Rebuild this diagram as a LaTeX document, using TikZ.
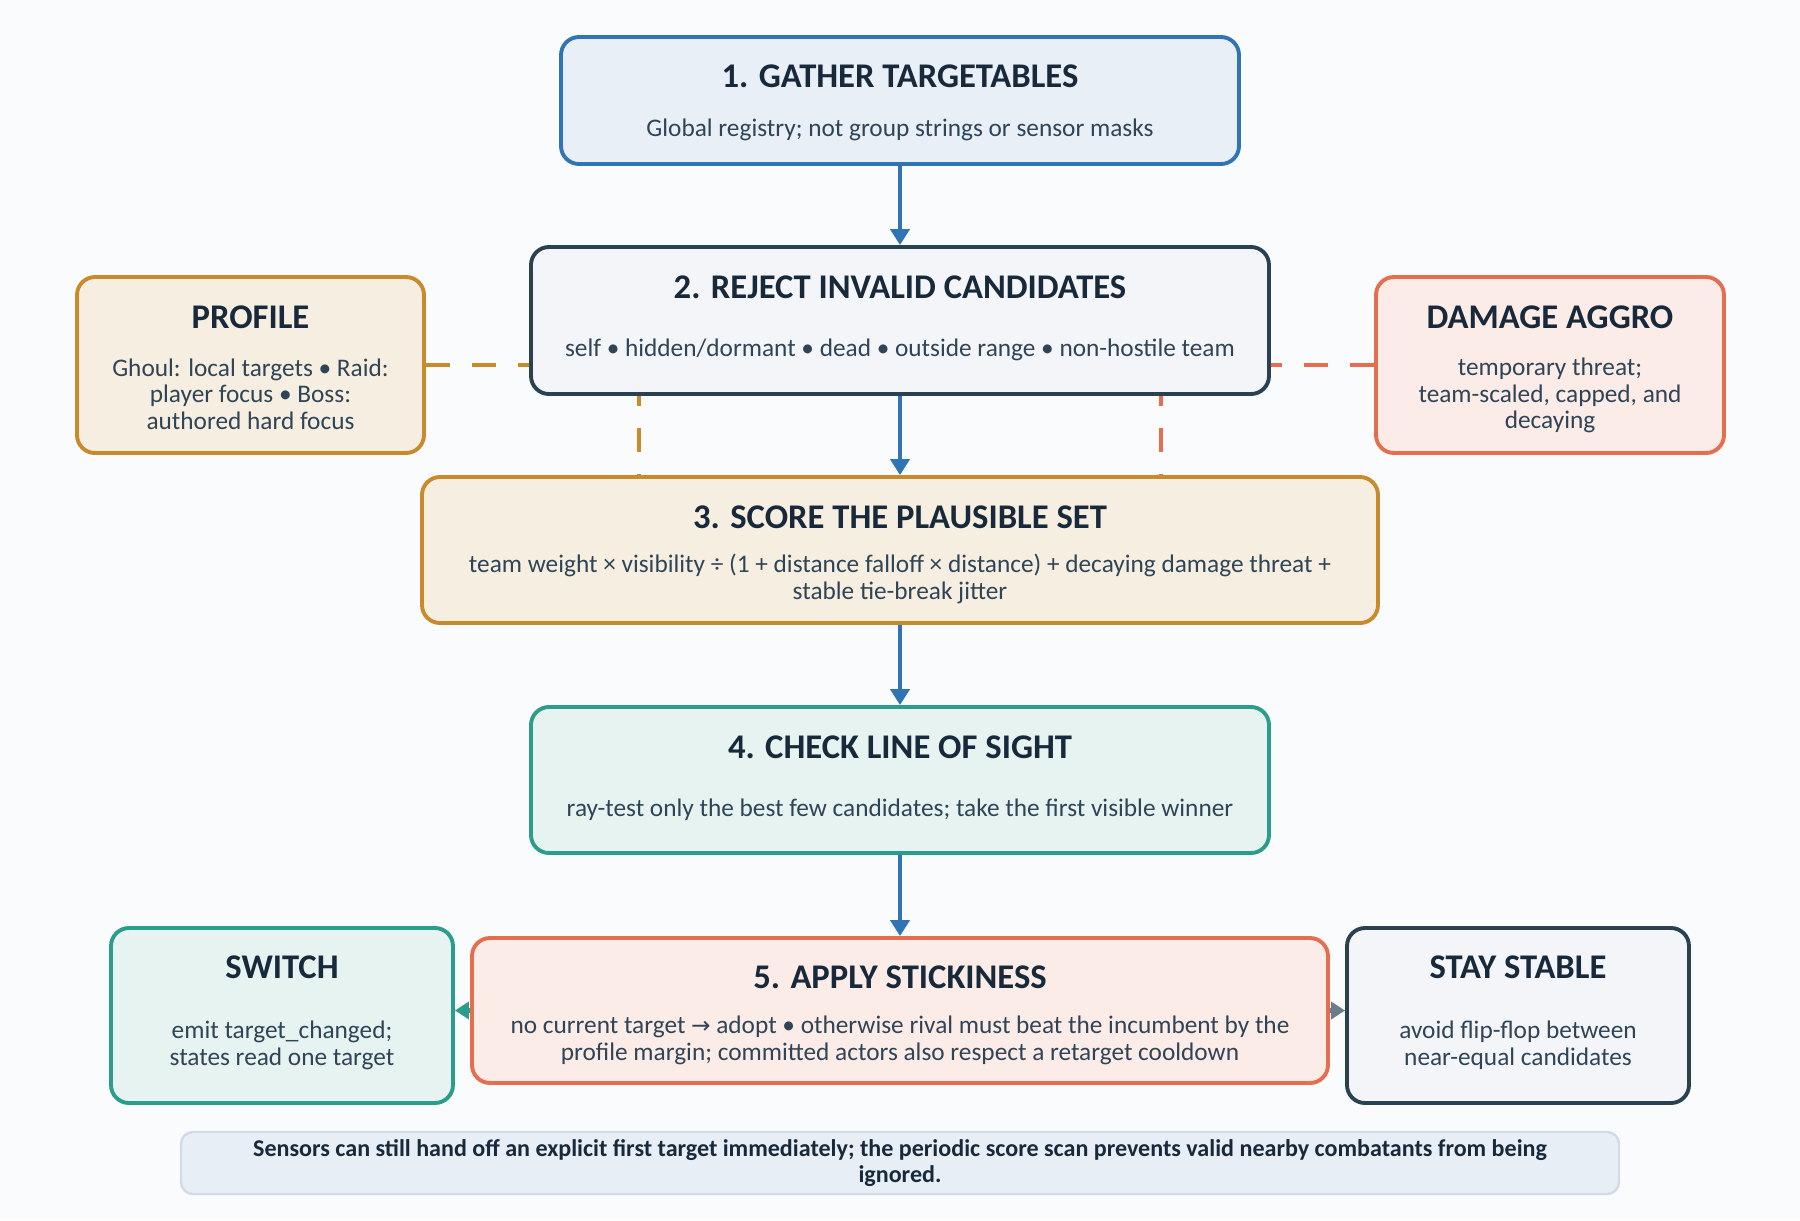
\documentclass[tikz,border=0pt]{standalone}
\usepackage{fontspec}
\setmainfont{Carlito}
\newfontfamily\arrowfont{DejaVu Sans}
\usetikzlibrary{arrows.meta,positioning,backgrounds,calc}

\definecolor{pagebg}{HTML}{F9FBFD}
\definecolor{titleink}{HTML}{17293A}
\definecolor{bodyink}{HTML}{2F4457}
\definecolor{flowblue}{HTML}{2F75B5}
\definecolor{gatherfill}{HTML}{E8EFF7}
\definecolor{slate}{HTML}{2A4152}
\definecolor{slatefill}{HTML}{F3F5F8}
\definecolor{ochre}{HTML}{C98A2B}
\definecolor{ochrefill}{HTML}{F6EFE1}
\definecolor{coral}{HTML}{E56E4E}
\definecolor{coralfill}{HTML}{FBECE7}
\definecolor{tealline}{HTML}{2A9D8C}
\definecolor{tealfill}{HTML}{E7F3F0}
\definecolor{notegrey}{HTML}{D3DCE5}
\definecolor{notefill}{HTML}{E8EEF5}
\definecolor{arrowgrey}{HTML}{6B7C8A}

\begin{document}
\begin{tikzpicture}[
  box/.style={draw, rounded corners=1.8mm, line width=1.1pt, inner sep=0pt},
  boxtitle/.style={font=\fontsize{9.85}{11}\selectfont\bfseries, text=titleink, inner sep=0pt},
  boxbody/.style={font=\fontsize{7.2}{7.6}\selectfont, text=bodyink, align=center, inner sep=0pt},
  flow/.style={draw=flowblue, line width=1.3pt, -{Triangle[length=1.6mm, width=1.9mm]}},
  link/.style={line width=1.3pt, dash pattern=on 2.4mm off 2.2mm},
  side/.style={line width=1.3pt, -{Triangle[length=1.4mm, width=1.7mm]}}
]
  \useasboundingbox (0,0) rectangle (18,-12.2);
  \begin{scope}[on background layer]
    \fill[pagebg] (0,0) rectangle (18,-12.2);
  \end{scope}

  % Main steps
  \node[box, draw=flowblue, fill=gatherfill, minimum width=6.78cm, minimum height=1.27cm] (gather) at (9,-1.005) {};
  \node[box, draw=slate, fill=slatefill, minimum width=7.38cm, minimum height=1.47cm] (reject) at (9,-3.205) {};
  \node[box, draw=ochre, fill=ochrefill, minimum width=9.56cm, minimum height=1.46cm] (score) at (9,-5.5) {};
  \node[box, draw=tealline, fill=tealfill, minimum width=7.38cm, minimum height=1.46cm] (los) at (9,-7.8) {};
  \node[box, draw=coral, fill=coralfill, minimum width=8.56cm, minimum height=1.45cm] (sticky) at (9,-10.105) {};

  % Side boxes
  \node[box, draw=ochre, fill=ochrefill, minimum width=3.47cm, minimum height=1.76cm] (profile) at (2.505,-3.65) {};
  \node[box, draw=coral, fill=coralfill, minimum width=3.48cm, minimum height=1.76cm] (aggro) at (15.5,-3.65) {};
  \node[box, draw=tealline, fill=tealfill, minimum width=3.42cm, minimum height=1.75cm] (switch) at (2.82,-10.155) {};
  \node[box, draw=slate, fill=slatefill, minimum width=3.42cm, minimum height=1.75cm] (stable) at (15.18,-10.155) {};

  % Titles and texts
  \node[boxtitle] (gathertitle) at ([yshift=-4.1mm]gather.north) {1. GATHER TARGETABLES};
  \node[boxbody] (gatherbody) at ([yshift=-9.45mm]gather.north) {Global registry; not group strings or sensor masks};
  \node[boxtitle] (rejecttitle) at ([yshift=-4.2mm]reject.north) {2. REJECT INVALID CANDIDATES};
  \node[boxbody] (rejectbody) at ([yshift=-10.45mm]reject.north) {self • hidden/dormant • dead • outside range • non-hostile team};
  \node[boxtitle] (scoretitle) at ([yshift=-4.2mm]score.north) {3. SCORE THE PLAUSIBLE SET};
  \node[boxbody] (scorebody) at ([yshift=-10.35mm]score.north) {team weight × visibility ÷ (1 + distance falloff × distance) + decaying damage threat +\\ stable tie-break jitter};
  \node[boxtitle] (lostitle) at ([yshift=-4.2mm]los.north) {4. CHECK LINE OF SIGHT};
  \node[boxbody] (losbody) at ([yshift=-10.45mm]los.north) {ray-test only the best few candidates; take the first visible winner};
  \node[boxtitle] (stickytitle) at ([yshift=-4.1mm]sticky.north) {5. APPLY STICKINESS};
  \node[boxbody] (stickybody) at ([yshift=-10.4mm]sticky.north) {no current target {\arrowfont\fontsize{6.6}{7.6}\selectfont →} adopt • otherwise rival must beat the incumbent by the\\ profile margin; committed actors also respect a retarget cooldown};
  \node[boxtitle] (profiletitle) at ([yshift=-4.2mm]profile.north) {PROFILE};
  \node[boxbody] (profilebody) at ([yshift=-11.9mm]profile.north) {Ghoul: local targets • Raid:\\ player focus • Boss:\\ authored hard focus};
  \node[boxtitle] (aggrotitle) at ([yshift=-4.2mm]aggro.north) {DAMAGE AGGRO};
  \node[boxbody] (aggrobody) at ([yshift=-12.05mm]aggro.north) {temporary threat;\\ team-scaled, capped, and\\ decaying};
  \node[boxtitle] (switchtitle) at ([yshift=-4.1mm]switch.north) {SWITCH};
  \node[boxbody] (switchbody) at ([yshift=-11.9mm]switch.north) {emit target\_changed;\\ states read one target};
  \node[boxtitle] (stabletitle) at ([yshift=-4.1mm]stable.north) {STAY STABLE};
  \node[boxbody] (stablebody) at ([yshift=-11.9mm]stable.north) {avoid flip-flop between\\ near-equal candidates};

  % Footer
  \node[box, draw=notegrey, fill=notefill, line width=0.7pt, rounded corners=1.2mm, minimum width=14.38cm, minimum height=0.62cm,
        font=\fontsize{6.85}{7.3}\selectfont\bfseries, text=titleink, align=center] (note) at (9,-11.63)
    {Sensors can still hand off an explicit first target immediately; the periodic score scan prevents valid nearby combatants from being\\ ignored.};

  % Arrows
  \draw[flow] (gather.south) -- (reject.north);
  \draw[flow] (reject.south) -- (score.north);
  \draw[flow] (score.south) -- (los.north);
  \draw[flow] (los.south) -- (sticky.north);
  \draw[side, draw=tealline, fill=tealline] (sticky.west) -- (sticky.west -| switch.east);
  \draw[side, draw=arrowgrey, fill=arrowgrey] (sticky.east) -- (sticky.east -| stable.west);

  % Dashed influences
  \begin{scope}[on background layer]
    \draw[link, draw=ochre] (profile.east) -| ($(score.north)+(-2.61,0)$);
    \draw[link, draw=coral] (aggro.west) -| ($(score.north)+(2.61,0)$);
  \end{scope}
\end{tikzpicture}
\end{document}
